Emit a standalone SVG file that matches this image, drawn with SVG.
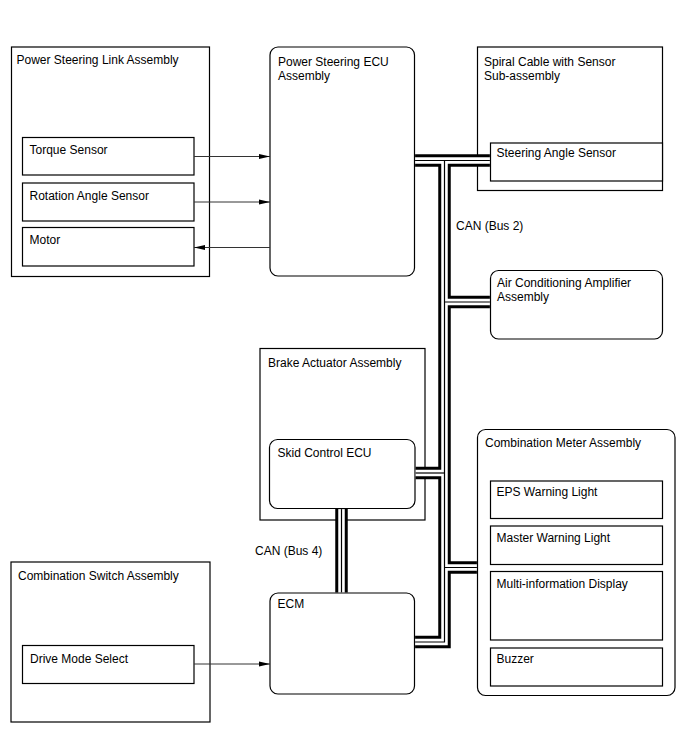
<svg xmlns="http://www.w3.org/2000/svg" width="688" height="755" viewBox="0 0 688 755">
<defs>
<style>
.box{fill:#fff;stroke:#000;stroke-width:1.2}
.t{font-family:"Liberation Sans",Arial,sans-serif;font-size:12px;fill:#000}
.arr{stroke:#333;stroke-width:1;fill:none;marker-end:url(#ah)}
.bk{stroke:#000;stroke-width:12.5;fill:none;stroke-linejoin:miter}
.wh{stroke:#fff;stroke-width:6.5;fill:none;stroke-linejoin:miter}
.cn{stroke:#000;stroke-width:1.2;fill:none;stroke-linejoin:miter}
</style>
<marker id="ah" markerUnits="userSpaceOnUse" markerWidth="12" markerHeight="6" refX="11" refY="3" orient="auto">
<path d="M0,0.6 L11,3 L0,5.4 z" fill="#000"/>
</marker>
</defs>
<rect width="688" height="755" fill="#fff"/>

<g id="power-steering-link">
<rect class="box" x="11.5" y="47" width="198" height="229.5"/>
<text class="t" x="16.5" y="64">Power Steering Link Assembly</text>
</g>
<g id="torque-sensor">
<rect class="box" x="22.5" y="137.5" width="171.5" height="37.5"/>
<text class="t" x="29.5" y="153.5">Torque Sensor</text>
</g>
<g id="rotation-angle-sensor">
<rect class="box" x="22.5" y="183" width="171.5" height="38"/>
<text class="t" x="29.5" y="199.5">Rotation Angle Sensor</text>
</g>
<g id="motor">
<rect class="box" x="22.5" y="227.5" width="171.5" height="38.5"/>
<text class="t" x="29.5" y="244">Motor</text>
</g>

<g id="power-steering-ecu">
<rect class="box" x="270" y="47" width="144.5" height="229" rx="8"/>
<text class="t" x="278" y="65.5">Power Steering ECU</text>
<text class="t" x="278" y="80">Assembly</text>
</g>

<g id="spiral-cable">
<rect class="box" x="477.5" y="47" width="185" height="143.5"/>
<text class="t" x="484" y="66">Spiral Cable with Sensor</text>
<text class="t" x="484" y="80">Sub-assembly</text>
</g>
<g id="steering-angle-sensor">
<rect class="box" x="490.5" y="143" width="172" height="38"/>
<text class="t" x="496.5" y="157">Steering Angle Sensor</text>
</g>

<g id="ac-amplifier">
<rect class="box" x="490.5" y="270.5" width="172" height="68.5" rx="8"/>
<text class="t" x="497" y="287">Air Conditioning Amplifier</text>
<text class="t" x="497" y="301">Assembly</text>
</g>

<g id="brake-actuator">
<rect class="box" x="260" y="348.5" width="165" height="171.5"/>
<text class="t" x="268" y="367">Brake Actuator Assembly</text>
</g>
<g id="skid-control-ecu">
<rect class="box" x="269.5" y="439.5" width="145.5" height="69" rx="8"/>
<text class="t" x="277.5" y="457">Skid Control ECU</text>
</g>

<g id="combination-switch">
<rect class="box" x="11" y="562" width="199" height="160"/>
<text class="t" x="18" y="580">Combination Switch Assembly</text>
</g>
<g id="drive-mode-select">
<rect class="box" x="22.5" y="645.5" width="171.5" height="38"/>
<text class="t" x="30" y="663">Drive Mode Select</text>
</g>

<g id="ecm">
<rect class="box" x="270" y="593" width="144.5" height="101" rx="8"/>
<text class="t" x="277.5" y="608">ECM</text>
</g>

<g id="combination-meter">
<rect class="box" x="477.5" y="429.5" width="197.5" height="266" rx="8"/>
<text class="t" x="485" y="446.5">Combination Meter Assembly</text>
</g>
<g id="eps-warning-light">
<rect class="box" x="490.5" y="481" width="172" height="37.5"/>
<text class="t" x="496.5" y="495.5">EPS Warning Light</text>
</g>
<g id="master-warning-light">
<rect class="box" x="490.5" y="526" width="172" height="38.5"/>
<text class="t" x="496.5" y="541.5">Master Warning Light</text>
</g>
<g id="multi-information-display">
<rect class="box" x="490.5" y="571.5" width="172" height="68.5"/>
<text class="t" x="496.5" y="587.5">Multi-information Display</text>
</g>
<g id="buzzer">
<rect class="box" x="490.5" y="648" width="172" height="38"/>
<text class="t" x="496.5" y="662.5">Buzzer</text>
</g>

<g id="labels">
<text class="t" x="456" y="229.5">CAN (Bus 2)</text>
<text class="t" x="255" y="554.5">CAN (Bus 4)</text>
</g>

<g id="connectors">
<line class="arr" x1="194" y1="156.5" x2="270" y2="156.5"/>
<line class="arr" x1="194" y1="202" x2="270" y2="202"/>
<line class="arr" x1="270" y1="247.5" x2="194" y2="247.5"/>
<line class="arr" x1="194" y1="664" x2="270" y2="664"/>
<g class="bus">
<path class="bk" d="M415.1,160.5 H489.9"/>
<path class="bk" d="M444.5,160.5 V642 H415.1"/>
<path class="bk" d="M444.5,302 H489.9"/>
<path class="bk" d="M444.5,473 H415.6"/>
<path class="bk" d="M444.5,567.5 H476.9"/>
<path class="bk" d="M341.5,509.1 V592.4"/>
<path class="wh" d="M415.1,160.5 H489.9"/>
<path class="wh" d="M444.5,160.5 V642 H415.1"/>
<path class="wh" d="M444.5,302 H489.9"/>
<path class="wh" d="M444.5,473 H415.6"/>
<path class="wh" d="M444.5,567.5 H476.9"/>
<path class="wh" d="M341.5,509.1 V592.4"/>
<path class="cn" d="M415.1,160.5 H489.9"/>
<path class="cn" d="M444.5,160.5 V642 H415.1"/>
<path class="cn" d="M444.5,302 H489.9"/>
<path class="cn" d="M444.5,473 H415.6"/>
<path class="cn" d="M444.5,567.5 H476.9"/>
<path class="cn" d="M341.5,509.1 V592.4"/>
</g>
</g>
</svg>
